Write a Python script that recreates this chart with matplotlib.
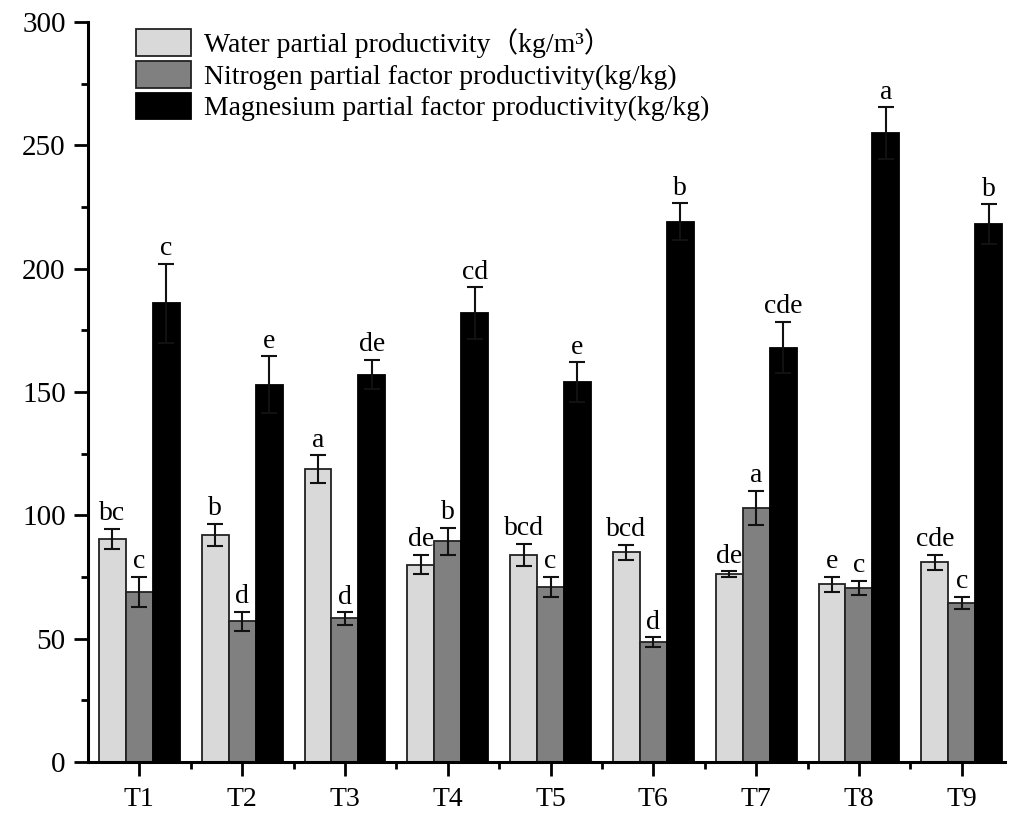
import numpy as np
import matplotlib
matplotlib.use('Agg')
from matplotlib import pyplot as plt
from matplotlib.ticker import MultipleLocator, FixedLocator

treatments = ['T1', 'T2', 'T3', 'T4', 'T5', 'T6', 'T7', 'T8', 'T9']

water = [90.5, 92.0, 118.8, 80.0, 84.0, 85.0, 76.0, 72.0, 81.0]
water_err = [4.0, 4.5, 5.6, 4.0, 4.5, 3.0, 1.2, 3.0, 3.0]
water_sig = ['bc', 'b', 'a', 'de', 'bcd', 'bcd', 'de', 'e', 'cde']

nitrogen = [69.0, 57.0, 58.2, 89.5, 71.0, 48.5, 103.0, 70.5, 64.5]
nitrogen_err = [6.0, 3.8, 2.5, 5.5, 4.0, 2.0, 7.0, 3.0, 2.5]
nitrogen_sig = ['c', 'd', 'd', 'b', 'c', 'd', 'a', 'c', 'c']

magnesium = [186.0, 153.0, 157.0, 182.0, 154.0, 219.0, 168.0, 255.0, 218.0]
magnesium_err = [16.0, 11.5, 6.0, 10.5, 8.0, 7.5, 10.5, 10.5, 8.0]
magnesium_sig = ['c', 'e', 'de', 'cd', 'e', 'b', 'cde', 'a', 'b']

labels = ['Water partial productivity\uff08kg/m\u00b3\uff09',
          'Nitrogen partial factor productivity(kg/kg)',
          'Magnesium partial factor productivity(kg/kg)']

FONT = ['Liberation Serif', 'Noto Sans CJK SC', 'DejaVu Serif']
plt.rcParams['font.family'] = FONT

fig = plt.figure(figsize=(10.11, 8.14), dpi=100)
ax = fig.add_axes([0.087, 0.064, 0.907, 0.909])

x = np.arange(1, len(treatments) + 1)
w = 0.262
series = [(water, water_err, water_sig, '#d9d9d9', '#222222'),
          (nitrogen, nitrogen_err, nitrogen_sig, '#808080', '#222222'),
          (magnesium, magnesium_err, magnesium_sig, '#000000', '#000000')]

for i, (vals, errs, sigs, fc, ec) in enumerate(series):
    pos = x + (i - 1) * w
    ax.bar(pos, vals, w, color=fc, edgecolor=ec, linewidth=1.3, label=labels[i], zorder=2)
    ax.errorbar(pos, vals, yerr=errs, fmt='none', ecolor='#111111', elinewidth=1.5,
                capsize=6, capthick=1.5, zorder=3)
    for p, v, e, s in zip(pos, vals, errs, sigs):
        ax.text(p, v + e + 1.0, s, ha='center', va='bottom', fontsize=20, zorder=4)

ax.set_xlim(0.5, 9.42)
ax.set_ylim(0, 300)
ax.set_xticks(x)
ax.set_xticklabels(treatments, fontsize=20)
ax.xaxis.set_minor_locator(FixedLocator(np.arange(1.5, 9.5, 1.0)))
ax.yaxis.set_major_locator(MultipleLocator(50))
ax.yaxis.set_minor_locator(MultipleLocator(25))
for lab in ax.get_yticklabels():
    lab.set_fontsize(21)

ax.tick_params(axis='both', which='major', direction='out', length=10, width=2, pad=6)
ax.tick_params(axis='both', which='minor', direction='out', length=5, width=2)
ax.tick_params(axis='x', which='major', pad=8)

for side in ['top', 'right']:
    ax.spines[side].set_visible(False)
for side in ['left', 'bottom']:
    ax.spines[side].set_linewidth(2.2)

ax.legend(loc='upper left', bbox_to_anchor=(0.025, 1.025), frameon=False, fontsize=20,
          handlelength=2.0, handleheight=1.1, labelspacing=0.1, handletextpad=0.45)

fig.savefig('out.png', dpi=100)
